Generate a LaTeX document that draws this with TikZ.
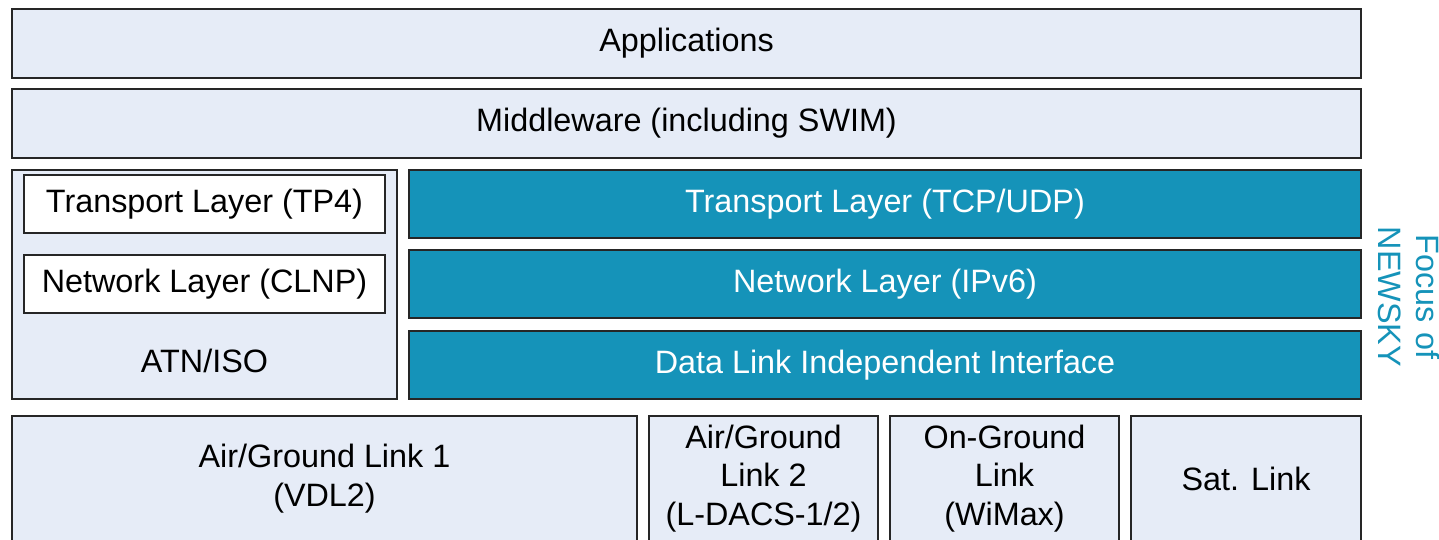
\documentclass[tikz,border=0pt]{standalone}
\usepackage{fontspec}
\setmainfont{Liberation Sans}
\definecolor{paleblue}{HTML}{E6ECF7}
\definecolor{newskyteal}{HTML}{1593B9}
\tikzstyle{layer} = [draw=black!85, semithick, fill=paleblue, align=center, inner sep=0pt]
\tikzstyle{focus layer} = [layer, fill=newskyteal, text=white]
\tikzstyle{label} = [align=center, inner sep=0pt]

\begin{document}
\begin{tikzpicture}[x=0.01cm, y=-0.01cm, font=\fontsize{9.2}{11}\selectfont]
  \clip (0,0) rectangle (1439,539);

  % Upper layers over the whole width
  \node[layer, minimum width=13.49cm, minimum height=0.69cm] (app) at (686.5,43.5) {Applications};
  \node[layer, minimum width=13.49cm, minimum height=0.69cm] (mid) at (686.5,123.5) {Middleware (including SWIM)};

  % ATN/ISO stack
  \node[layer, minimum width=3.85cm, minimum height=2.29cm] (atn) at (204.5,284.5) {};
  \node[layer, fill=white, minimum width=3.61cm, minimum height=0.58cm] (tp4) at (204.5,204) {Transport Layer (TP4)};
  \node[layer, fill=white, minimum width=3.61cm, minimum height=0.58cm] (clnp) at (204.5,284) {Network Layer (CLNP)};
  \node[label] (atnlabel) at (204.5,361) {ATN/ISO};

  % IPv6 stack
  \foreach \y/\name/\txt in {204/tcp/Transport Layer (TCP{/}UDP), 284/ipv/Network Layer (IPv6), 365/dli/Data Link Independent Interface}
    \node[focus layer, minimum width=9.52cm, minimum height=0.68cm] (\name) at (885,\y) {\txt};

  \node[label, text=newskyteal, rotate=-90] (focus) at (1409,297) {Focus of\\NEWSKY};

  % Links
  \node[layer, minimum width=6.25cm, minimum height=1.25cm] (link1) at (324.5,478.5) {Air/Ground Link 1\\(VDL2)};
  \node[layer, minimum width=2.29cm, minimum height=1.25cm] (link2) at (763.5,478.5) {Air/Ground\\Link 2\\(L-DACS-1/2)};
  \node[layer, minimum width=2.29cm, minimum height=1.25cm] (ground) at (1004.5,478.5) {On-Ground\\Link\\(WiMax)};
  \node[layer, minimum width=2.30cm, minimum height=1.25cm] (sat) at (1246,478.5) {Sat. Link};
\end{tikzpicture}
\end{document}
